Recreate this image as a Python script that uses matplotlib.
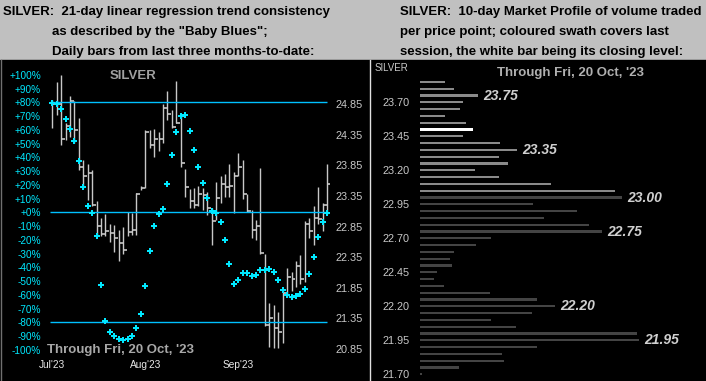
import numpy as np
import matplotlib.pyplot as plt

plt.rcParams['font.family'] = ['Liberation Sans', 'DejaVu Sans']

W, H = 706, 381

# --- left chart: daily bars + "Baby Blues" (21-day trend consistency, %) ---
high = [24.92, 25.21, 25.33, 24.54, 24.98, 24.91, 24.62, 23.94, 23.88, 23.78,
        23.26, 22.99, 23.06, 22.90, 22.88, 22.79, 22.85, 23.09, 23.08, 23.40,
        23.51, 24.43, 24.43, 24.44, 24.40, 24.86, 25.07, 24.76, 25.23, 24.67,
        23.79, 23.46, 23.48, 23.51, 23.48, 23.42, 23.15, 23.58, 23.67, 23.71,
        23.88, 23.75, 24.05, 23.93, 23.39, 23.12, 22.96, 23.81, 22.41, 21.60,
        21.57, 21.46, 21.79, 22.17, 22.11, 22.28, 22.39, 22.94, 22.99, 23.19,
        23.49, 23.23, 23.88]
low = [24.46, 24.67, 24.19, 24.27, 24.32, 24.21, 23.78, 23.48, 23.28, 23.18,
       22.69, 22.69, 22.69, 22.60, 22.44, 22.28, 22.41, 22.69, 22.71, 22.71,
       23.45, 23.48, 24.13, 23.98, 24.09, 24.21, 24.59, 24.46, 24.54, 23.83,
       23.33, 23.15, 23.15, 23.18, 23.12, 23.04, 22.55, 22.96, 23.23, 23.34,
       23.34, 23.07, 23.67, 23.30, 23.09, 22.66, 22.63, 22.41, 21.23, 20.88,
       20.86, 20.86, 20.95, 21.70, 21.79, 21.87, 21.92, 21.95, 22.66, 22.55,
       22.90, 22.78, 23.06]
close = [24.86, 24.85, 24.28, 24.49, 24.91, 24.43, 23.83, 23.68, 23.73, 23.20,
         22.86, 22.73, 22.77, 22.75, 22.66, 22.58, 22.47, 22.76, 22.79, 23.39,
         23.48, 24.40, 24.19, 24.28, 24.28, 24.78, 24.69, 24.48, 24.55, 23.89,
         23.50, 23.26, 23.20, 23.39, 23.37, 23.15, 22.94, 23.31, 23.54, 23.49,
         23.51, 23.68, 23.83, 23.39, 23.11, 22.79, 22.86, 22.42, 21.24, 21.35,
         21.19, 21.13, 21.76, 22.02, 22.00, 22.21, 21.99, 22.90, 22.78, 22.99,
         22.97, 23.21, 23.54]
baby_blues = [79.3, 78.5, 75.3, 67.9, 60.6, 52.1, 37.5, 18.6, 4.8, -0.3,
              -17.0, -52.9, -78.8, -86.8, -89.7, -91.9, -92.9, -91.9, -89.7, -83.9,
              -73.7, -53.4, -28.1, -9.7, -1.2, 2.4, 20.8, 41.9, 58.6, 70.3,
              71.0, 59.3, 45.5, 33.2, 21.5, 10.6, 1.2, -0.5, -6.8, -20.4,
              -37.4, -51.9, -49.0, -43.9, -43.9, -46.1, -45.4, -41.7, -41.7, -41.0,
              -43.2, -49.0, -56.3, -59.9, -61.4, -60.7, -59.2, -55.6, -44.7, -32.3,
              -17.7, -7.1, -0.3]
month_labels = ["Jul'23", "Aug'23", "Sep'23"]
month_pos = [0, 21, 42]
pct_ticks = list(range(-100, 101, 10))
price_ticks = [20.85, 21.35, 21.85, 22.35, 22.85, 23.35, 23.85, 24.35, 24.85]
ref_lines = [80, 0, -80]

# --- right chart: 10-day market profile ---
profile_price = [23.85, 23.80, 23.75, 23.70, 23.65, 23.60, 23.55, 23.50, 23.45, 23.40,
                 23.35, 23.30, 23.25, 23.20, 23.15, 23.10, 23.05, 23.00, 22.95, 22.90,
                 22.85, 22.80, 22.75, 22.70, 22.65, 22.60, 22.55, 22.50, 22.45, 22.40,
                 22.35, 22.30, 22.25, 22.20, 22.15, 22.10, 22.05, 22.00, 21.95, 21.90,
                 21.85, 21.80, 21.75, 21.70]
profile_vol = [25, 34, 58, 43, 40, 25, 46, 53, 43, 80,
               97, 79, 88, 55, 79, 131, 195, 202, 113, 157,
               124, 169, 182, 71, 56, 34, 30, 32, 17, 14,
               24, 70, 117, 135, 112, 71, 96, 217, 219, 117,
               82, 84, 39, 2]
close_level = 23.50
labelled_levels = [23.75, 23.35, 23.00, 22.75, 22.20, 21.95]
profile_ticks = [21.70, 21.95, 22.20, 22.45, 22.70, 22.95, 23.20, 23.45, 23.70]


def px_rect(x0, y0, x1, y1):
    return [x0 / W, 1 - y1 / H, (x1 - x0) / W, (y1 - y0) / H]


fig = plt.figure(figsize=(W / 100, H / 100), dpi=100, facecolor='#c0c0c0')

# background panels
bg = fig.add_axes([0, 0, 1, 1])
bg.set_xlim(0, W)
bg.set_ylim(H, 0)
bg.axis('off')
bg.add_patch(plt.Rectangle((0, 60), W, H - 60, color='black'))
bg.plot([369.5, 369.5], [60, H], color='#e0e0e0', lw=1)
bg.plot([0.5, 0.5], [60, H], color='#707070', lw=1)

# header texts
hdr = dict(color='black', fontsize=9.5, fontweight='bold', va='baseline')
bg.text(3, 15, 'SILVER:  21-day linear regression trend consistency', **hdr)
bg.text(52, 35.5, 'as described by the "Baby Blues";', **hdr)
bg.text(52, 55, 'Daily bars from last three months-to-date:', **hdr)
bg.text(400, 15, 'SILVER:  10-day Market Profile of volume traded', **hdr)
bg.text(400, 35.5, 'per price point; coloured swath covers last', **hdr)
bg.text(400, 55, 'session, the white bar being its closing level:', **hdr)

# ---------- left chart ----------
ax = fig.add_axes(px_rect(48, 60, 330, 381))
ax.set_facecolor('none')
ax2 = ax.twinx()
ax2.set_facecolor('none')

idx = np.arange(len(close))
ax.vlines(idx, low, high, color='#c8c8c8', lw=1)
ax.hlines(close, idx, idx + 0.9, color='#c8c8c8', lw=1.2)
ax.set_ylim(20.327, 25.572)
ax.set_xlim(-0.97, 62.69)
ax.set_yticks(price_ticks)
ax.set_yticklabels([f'{v:.2f}' for v in price_ticks])
ax.set_xticks([])

ax2.hlines(ref_lines, -0.5, 62, color='#00c0ff', lw=1)
ax2.plot(idx, baby_blues, 'P', color='#00e8ff', markersize=4.5, markeredgewidth=0)
ax2.set_ylim(-122.7, 110.8)
ax2.set_yticks(pct_ticks)
ax2.set_yticklabels([f'{v:+d}%' for v in pct_ticks])

# price scale on the right, % scale on the left
ax.yaxis.tick_right()
ax2.yaxis.tick_left()
ax.tick_params(axis='y', length=0, pad=4.3, labelsize=7.8, labelcolor='#c8c8c8',
               left=False, labelleft=False, right=True, labelright=True)
ax2.tick_params(axis='y', length=0, pad=5, labelsize=7.2, labelcolor='#00e8ff',
                left=True, labelleft=True, right=False, labelright=False)
for a in (ax, ax2):
    for s in a.spines.values():
        s.set_visible(False)

for pos, lab in zip(month_pos, month_labels):
    ax.text(pos, 0.05, lab, transform=ax.get_xaxis_transform(), ha='center',
            va='center', color='#e8e8e8', fontsize=7.3)

bg.text(133, 76, 'SILVER', color='#a0a0a0', fontsize=9.5, fontweight='bold',
        ha='center', va='center')
bg.text(47, 350, "Through Fri, 20 Oct, '23", color='#a8a8a8', fontsize=9.5,
        fontweight='bold', ha='left', va='center')

# ---------- right chart ----------
axr = fig.add_axes(px_rect(420, 60, 706, 381))
axr.set_facecolor('none')
last_hi, last_lo = high[-1], low[-1]
colors = []
for p in profile_price:
    if abs(p - close_level) < 1e-6:
        colors.append('#ffffff')
    elif last_lo - 0.025 <= p <= last_hi:
        colors.append('#8a8a8a')
    else:
        colors.append('#444444')
axr.barh(profile_price, profile_vol, height=0.016, color=colors, left=0)
axr.set_xlim(0, 286)
axr.set_ylim(21.651, 24.011)
axr.set_xticks([])
axr.set_yticks(profile_ticks)
axr.set_yticklabels([f'{v:.2f}' for v in profile_ticks])
axr.tick_params(axis='y', length=0, pad=7.2, labelsize=7.8, labelcolor='#c8c8c8')
for s in axr.spines.values():
    s.set_visible(False)

for lvl in labelled_levels:
    v = profile_vol[profile_price.index(lvl)]
    axr.text(v + 5, lvl, f'{lvl:.2f}', color='#d0d0d0', fontsize=10,
             fontweight='bold', fontstyle='italic', ha='left', va='center')

bg.text(375, 68, 'SILVER', color='#c8c8c8', fontsize=7, ha='left', va='center')
bg.text(497, 73, "Through Fri, 20 Oct, '23", color='#b0b0b0', fontsize=9.5,
        fontweight='bold', ha='left', va='center')

fig.savefig('out.png', dpi=100, facecolor=fig.get_facecolor())
